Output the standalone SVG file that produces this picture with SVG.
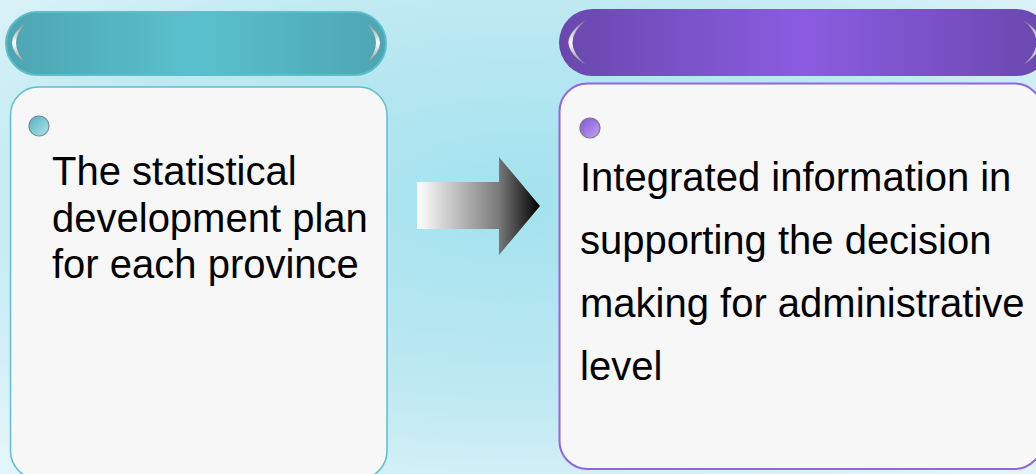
<svg xmlns="http://www.w3.org/2000/svg" width="1036" height="474" viewBox="0 0 1036 474">
  <defs>
    <radialGradient id="bg" cx="50%" cy="42%" r="72%">
      <stop offset="0" stop-color="#a2e2ee"/>
      <stop offset="0.6" stop-color="#c0e9f2"/>
      <stop offset="1" stop-color="#e2f5f9"/>
    </radialGradient>
    <linearGradient id="tealPill" x1="0" y1="0" x2="1" y2="0">
      <stop offset="0" stop-color="#4ca5b2"/>
      <stop offset="0.5" stop-color="#5bc0cd"/>
      <stop offset="1" stop-color="#4ca5b2"/>
    </linearGradient>
    <linearGradient id="purplePill" x1="0" y1="0" x2="1" y2="0">
      <stop offset="0" stop-color="#6a47ae"/>
      <stop offset="0.5" stop-color="#8b5ce0"/>
      <stop offset="1" stop-color="#6a47ae"/>
    </linearGradient>
    <linearGradient id="silver" x1="0" y1="0" x2="0" y2="1">
      <stop offset="0" stop-color="#8a8a8a"/>
      <stop offset="0.5" stop-color="#ffffff"/>
      <stop offset="1" stop-color="#8a8a8a"/>
    </linearGradient>
    <linearGradient id="tealDot" x1="0" y1="0" x2="1" y2="1">
      <stop offset="0" stop-color="#4fb3c2"/>
      <stop offset="1" stop-color="#b2e3ea"/>
    </linearGradient>
    <linearGradient id="purpleDot" x1="0" y1="0" x2="1" y2="1">
      <stop offset="0" stop-color="#8152dc"/>
      <stop offset="1" stop-color="#c0a6f2"/>
    </linearGradient>
    <linearGradient id="arrowGrad" gradientUnits="userSpaceOnUse" x1="417" y1="0" x2="540" y2="0">
      <stop offset="0" stop-color="#ffffff"/>
      <stop offset="0.66" stop-color="#7a7a7a"/>
      <stop offset="1" stop-color="#000000"/>
    </linearGradient>
  </defs>
  <style>
    .body { fill: #f7f7f7; }
    .txt { font-family: "Liberation Sans", Arial, sans-serif; font-size: 40px; fill: #000000; }
    .crescent { fill: url(#silver); }
  </style>

  <rect x="0" y="0" width="1036" height="474" fill="url(#bg)"/>

  <g id="node-left">
    <rect x="6" y="12" width="380" height="63" rx="31.5" fill="url(#tealPill)" stroke="#5cbecb" stroke-width="2"/>
    <path class="crescent" d="M27,22 Q-3,43 27,64 Q5,43 27,22 Z"/>
    <path class="crescent" d="M365,22 Q395,43 365,64 Q387,43 365,22 Z"/>
    <rect class="body" x="10.5" y="87" width="376.5" height="392" rx="28" stroke="#5bbfcc" stroke-width="1.5"/>
    <circle cx="39" cy="126" r="10" fill="url(#tealDot)" stroke="#7a88a8" stroke-width="1.2"/>
    <text class="txt" x="52" y="185">The statistical</text>
    <text class="txt" x="52" y="231.7">development plan</text>
    <text class="txt" x="52" y="278.4">for each province</text>
  </g>

  <g id="node-right">
    <rect x="559" y="9" width="491" height="67" rx="33.5" fill="url(#purplePill)"/>
    <path class="crescent" d="M586,20 Q551,42.5 586,65 Q559,42.5 586,20 Z"/>
    <path class="crescent" d="M1023,20 Q1058,42.5 1023,65 Q1050,42.5 1023,20 Z"/>
    <rect class="body" x="559.5" y="83.5" width="483" height="385.5" rx="28" stroke="#9066e2" stroke-width="2"/>
    <circle cx="590" cy="128" r="10" fill="url(#purpleDot)" stroke="#777788" stroke-width="1.2"/>
    <text class="txt" x="580" y="190.5">Integrated information in</text>
    <text class="txt" x="580" y="253.5">supporting the decision</text>
    <text class="txt" x="580" y="316.5">making for administrative</text>
    <text class="txt" x="580" y="379.5">level</text>
  </g>

  <g id="connectors">
    <polygon points="417,182 499,182 499,157 540,206 499,255 499,229 417,229" fill="url(#arrowGrad)"/>
  </g>
</svg>
